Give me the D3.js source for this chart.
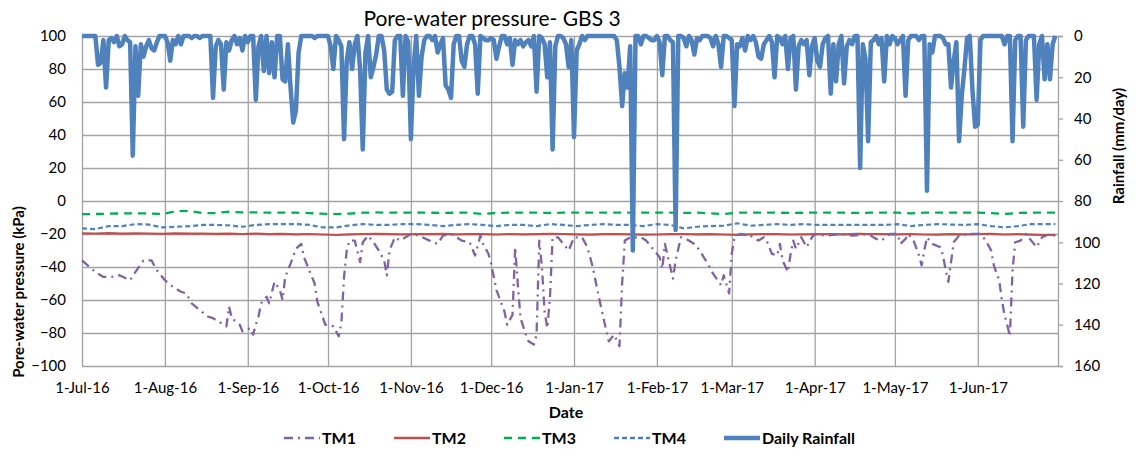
<!DOCTYPE html>
<html>
<head>
<meta charset="utf-8">
<script src="https://cdn.jsdelivr.net/npm/d3@7"></script>
<style>
    body { margin: 0; background: #fff; }
    text { font-family: Lato, "Open Sans", sans-serif; fill: #000; }
</style>
</head>
<body>
<div id="chart"></div>
<script>

// daily rainfall (mm/day), one value per day from 1-Jul-16
var rainStart = "2016-07-01";
var rainfall = [
    0, 0, 0, 0, 0, 0, 14, 13, 2, 25,
    2, 1, 3, 0, 5, 4, 0, 2, 3, 58,
    5, 29, 4, 10, 5, 2, 6, 7, 3, 0,
    0, 0, 3, 12, 2, 4, 0, 4, 0, 0,
    0, 1, 0, 0, 1, 0, 0, 0, 0, 30,
    5, 2, 4, 26, 3, 7, 2, 0, 4, 1,
    7, 0, 3, 0, 0, 31, 5, 0, 17, 0,
    18, 3, 20, 0, 0, 21, 22, 4, 25, 42,
    36, 8, 0, 0, 0, 0, 0, 1, 0, 0,
    0, 0, 0, 5, 16, 0, 2, 5, 50, 12,
    3, 16, 4, 0, 16, 55, 8, 0, 20, 15,
    9, 0, 0, 7, 26, 28, 27, 2, 0, 0,
    29, 0, 3, 50, 15, 0, 29, 10, 2, 0,
    0, 2, 0, 8, 4, 1, 24, 26, 30, 4,
    0, 0, 12, 15, 4, 0, 0, 4, 28, 0,
    1, 2, 2, 1, 2, 11, 5, 0, 0, 4,
    1, 14, 2, 4, 2, 5, 3, 2, 5, 0,
    27, 0, 1, 4, 20, 3, 55, 5, 0, 0,
    1, 4, 15, 2, 49, 7, 4, 0, 2, 0,
    0, 0, 0, 0, 0, 0, 0, 0, 0, 0,
    2, 15, 34, 18, 25, 5, 104, 0, 0, 4,
    0, 0, 1, 2, 2, 0, 3, 19, 0, 0,
    2, 3, 94, 0, 0, 1, 5, 0, 2, 9,
    1, 2, 0, 0, 0, 1, 5, 0, 4, 15,
    0, 0, 1, 2, 34, 4, 5, 1, 7, 0,
    2, 0, 3, 10, 11, 4, 2, 0, 3, 20,
    0, 1, 4, 0, 16, 1, 0, 26, 5, 2,
    4, 2, 19, 5, 1, 12, 15, 4, 1, 0,
    28, 4, 22, 4, 0, 23, 5, 2, 4, 0,
    0, 64, 4, 11, 51, 3, 2, 0, 4, 1,
    22, 0, 4, 0, 1, 4, 2, 0, 29, 2,
    0, 0, 0, 2, 0, 0, 75, 4, 8, 0,
    0, 0, 1, 4, 4, 25, 12, 3, 51, 29,
    16, 1, 0, 26, 44, 43, 2, 0, 0, 0,
    0, 0, 0, 0, 0, 4, 0, 0, 51, 2,
    0, 0, 44, 2, 0, 0, 0, 31, 4, 0,
    21, 4, 21, 4, 0];

// TM1 readings: day since 1-Jul-16 and pressure (kPa)
var tm1Days = [0, 5, 8, 11, 14, 18, 20, 23, 26, 28, 31, 34, 37, 39, 41, 44, 47, 49, 52, 54,
    55, 56, 59, 60, 63, 64, 65, 66, 67, 69, 70, 72, 74, 75, 76, 78, 80, 82, 83, 85,
    87, 88, 91, 92, 94, 96, 97, 98, 99, 100, 102, 104, 105, 107, 109, 111, 113, 114, 115, 117,
    119, 121, 123, 126, 130, 133, 135, 138, 142, 145, 147, 149, 150, 152, 153, 155, 158, 159, 161, 162,
    163, 164, 166, 167, 169, 170, 171, 172, 173, 174, 175, 176, 178, 180, 182, 184, 187, 189, 191, 193,
    195, 197, 199, 201, 202, 203, 205, 209, 211, 214, 216, 217, 218, 219, 221, 222, 224, 226, 229, 231,
    234, 236, 239, 240, 242, 243, 244, 246, 250, 253, 255, 256, 258, 260, 261, 262, 264, 265, 266, 267,
    269, 271, 273, 274, 278, 284, 288, 294, 297, 299, 302, 305, 306, 308, 309, 311, 313, 314, 315, 316,
    318, 321, 322, 323, 324, 325, 326, 328, 331, 333, 336, 338, 340, 341, 343, 344, 345, 346, 347, 348,
    349, 351, 353, 355, 357, 359, 362, 364];
var tm1Values = [-36, -43, -46, -46, -45, -48, -43, -36, -36, -42, -48, -52, -55, -56, -62, -66, -70, -71, -74, -76,
    -64, -71, -75, -79, -77, -81, -75, -70, -62, -58, -62, -49, -54, -60, -46, -38, -29, -26, -34, -42,
    -50, -61, -75, -75, -76, -82, -74, -46, -30, -24, -24, -37, -25, -21, -25, -30, -36, -45, -30, -22,
    -24, -22, -20, -21, -24, -26, -21, -20, -24, -25, -33, -21, -26, -32, -38, -54, -67, -75, -69, -28,
    -51, -71, -81, -85, -87, -81, -24, -40, -67, -77, -59, -22, -22, -26, -30, -22, -22, -28, -40, -56,
    -71, -85, -81, -88, -50, -24, -22, -22, -24, -30, -34, -41, -26, -33, -47, -36, -22, -23, -26, -30,
    -38, -44, -51, -45, -56, -32, -22, -20, -21, -24, -22, -24, -32, -33, -26, -36, -43, -32, -24, -29,
    -22, -28, -22, -20, -21, -20, -21, -20, -23, -24, -20, -20, -26, -23, -20, -24, -33, -39, -30, -22,
    -26, -28, -33, -42, -49, -37, -25, -21, -20, -20, -20, -24, -30, -39, -48, -60, -69, -75, -82, -42,
    -25, -24, -20, -24, -28, -22, -20, -21];

// TM2-TM4 readings, every five days
var pwpDays = [0, 5, 10, 15, 20, 25, 30, 35, 40, 45, 50, 55, 60, 65, 70, 75, 80, 85, 90, 95,
    100, 105, 110, 115, 120, 125, 130, 135, 140, 145, 150, 155, 160, 165, 170, 175, 180, 185, 190, 195,
    200, 205, 210, 215, 220, 225, 230, 235, 240, 245, 250, 255, 260, 265, 270, 275, 280, 285, 290, 295,
    300, 305, 310, 315, 320, 325, 330, 335, 340, 345, 350, 355, 360, 364];
var tm2Values = [-19.6, -19.7, -19.5, -19.8, -19.6, -19.7, -19.9, -19.6, -19.8, -19.7,
    -19.9, -19.8, -20.0, -19.8, -20.1, -19.9, -20.2, -20.0, -20.3, -20.6,
    -20.2, -20.0, -19.9, -20.1, -20.2, -20.0, -20.1, -19.9, -20.2, -20.0,
    -20.1, -20.3, -20.0, -20.2, -20.1, -19.9, -20.0, -20.2, -20.4, -20.1,
    -20.0, -20.2, -20.4, -20.3, -20.1, -20.0, -20.2, -20.1, -20.3, -20.5,
    -20.2, -20.0, -20.1, -20.3, -20.2, -20.0, -20.1, -20.2, -19.9, -20.0,
    -20.1, -20.2, -20.0, -20.3, -20.4, -20.1, -20.2, -20.0, -19.9, -20.3,
    -20.1, -20.4, -20.6, -20.5];
var tm3Values = [-7.9, -7.9, -7.7, -7.5, -7.5, -7.5, -7.9, -6.2, -5.9, -7.3,
    -7.3, -6.5, -6.9, -6.9, -7.1, -7.1, -7.1, -7.3, -7.7, -7.9,
    -7.7, -7.1, -6.9, -7.1, -7.1, -7.1, -7.1, -7.2, -7.1, -7.1,
    -7.9, -7.2, -7.1, -7.1, -7.1, -7.2, -7.1, -7.1, -7.1, -7.1,
    -7.1, -7.0, -7.1, -7.1, -7.1, -7.2, -7.1, -7.5, -7.9, -7.1,
    -7.1, -7.1, -7.1, -7.2, -7.1, -7.1, -7.1, -7.1, -7.2, -7.1,
    -7.1, -7.1, -7.5, -7.1, -7.1, -7.1, -7.1, -7.1, -7.3, -7.9,
    -7.2, -7.1, -7.1, -7.1];
var tm4Values = [-16.6, -17.0, -15.2, -15.2, -14.0, -14.3, -16.0, -15.6, -15.3, -14.5,
    -14.5, -14.8, -15.6, -14.5, -14.0, -14.0, -14.0, -14.5, -16.0, -16.0,
    -14.8, -14.0, -14.5, -14.5, -14.0, -14.0, -14.5, -15.2, -14.5, -14.0,
    -14.5, -15.2, -14.5, -14.5, -15.2, -14.0, -14.5, -15.2, -14.5, -14.0,
    -14.5, -14.5, -15.2, -14.0, -14.5, -16.6, -15.6, -15.2, -15.0, -13.5,
    -15.0, -14.5, -14.0, -14.5, -14.0, -14.5, -14.5, -14.5, -14.5, -14.5,
    -14.5, -14.0, -15.2, -14.5, -14.0, -14.3, -14.5, -14.0, -15.2, -16.0,
    -15.2, -14.0, -14.0, -14.0];

var monthTicks = ["2016-07-01", "2016-08-01", "2016-09-01", "2016-10-01", "2016-11-01", "2016-12-01",
    "2017-01-01", "2017-02-01", "2017-03-01", "2017-04-01", "2017-05-01", "2017-06-01"];
var pwpTicks = [-100, -80, -60, -40, -20, 0, 20, 40, 60, 80, 100];
var rainTicks = [0, 20, 40, 60, 80, 100, 120, 140, 160];

var seriesNames = ["TM1", "TM2", "TM3", "TM4", "Daily Rainfall"];

function draw() {
    var margin = { top: 36, right: 81, bottom: 88, left: 82 },
        width = 1139 - margin.left - margin.right,
        height = 454 - margin.top - margin.bottom;

    var parse = d3.timeParse("%Y-%m-%d");
    var start = parse(rainStart);
    var fmt = d3.timeFormat("%-d-%b-%y");

    var svg = d3.select("#chart")
        .append("svg")
        .attr("width", 1139)
        .attr("height", 454);

    var g = svg.append("g")
        .attr("transform", "translate(" + margin.left + "," + margin.top + ")");

    var x = d3.scaleTime()
        .domain([start, d3.timeDay.offset(start, 365)])
        .range([0, width]);
    var y = d3.scaleLinear().domain([-100, 100]).range([height, 0]);
    var yRain = d3.scaleLinear().domain([0, 160]).range([0, height]);

    var gridColor = "#a3a3a3";

    // horizontal grid + left labels
    var yAxis = g.append("g")
        .call(d3.axisLeft(y).tickValues(pwpTicks).tickSize(-width).tickPadding(16));
    yAxis.select(".domain").remove();
    yAxis.selectAll("line").attr("stroke", gridColor).attr("stroke-width", 1.3);
    yAxis.selectAll("text").style("font-size", "15px");

    // vertical grid at each month
    var tickDates = monthTicks.map(parse);
    var xAxis = g.append("g")
        .attr("transform", "translate(0," + height + ")")
        .call(d3.axisBottom(x).tickValues(tickDates).tickFormat(fmt).tickSize(height).tickPadding(16));
    xAxis.attr("transform", "translate(0,0)");
    xAxis.select(".domain").remove();
    xAxis.selectAll("line").attr("stroke", gridColor).attr("stroke-width", 1.3);
    xAxis.selectAll("text").style("font-size", "15px").attr("y", height + 16);

    // right axis (rainfall, inverted)
    var rAxis = g.append("g")
        .attr("transform", "translate(" + width + ",0)")
        .call(d3.axisRight(yRain).tickValues(rainTicks).tickSize(5).tickPadding(11));
    rAxis.select(".domain").attr("stroke", gridColor).attr("stroke-width", 1.3);
    rAxis.selectAll("line").attr("stroke", gridColor).attr("stroke-width", 1.3);
    rAxis.selectAll("text").style("font-size", "15px");

    var line = d3.line()
        .x(function (d) { return x(d.date); })
        .y(function (d) { return y(d.v); });

    function pairs(days, vals) {
        return days.map(function (d, i) {
            return { date: d3.timeDay.offset(start, d), v: vals[i] };
        });
    }

    var styles = {
        TM1: { color: "#8064a2", width: 2.3, dash: "9,5,2,5" },
        TM2: { color: "#c0504d", width: 2.2, dash: null },
        TM3: { color: "#00b050", width: 2.3, dash: "8,6" },
        TM4: { color: "#4f81bd", width: 2.2, dash: "5,3" },
        "Daily Rainfall": { color: "#4f81bd", width: 4.5, dash: null }
    };

    var pwpSeries = [
        ["TM2", pairs(pwpDays, tm2Values)],
        ["TM3", pairs(pwpDays, tm3Values)],
        ["TM4", pairs(pwpDays, tm4Values)],
        ["TM1", pairs(tm1Days, tm1Values)]
    ];

    pwpSeries.forEach(function (s) {
        var st = styles[s[0]];
        g.append("path")
            .datum(s[1])
            .attr("fill", "none")
            .attr("stroke", st.color)
            .attr("stroke-width", st.width)
            .attr("stroke-dasharray", st.dash)
            .attr("stroke-linejoin", "round")
            .attr("d", line);
    });

    // rainfall on the secondary axis
    var rainLine = d3.line()
        .x(function (d, i) { return x(d3.timeDay.offset(start, i)); })
        .y(function (d) { return yRain(d); });

    g.append("path")
        .datum(rainfall)
        .attr("fill", "none")
        .attr("stroke", styles["Daily Rainfall"].color)
        .attr("stroke-width", styles["Daily Rainfall"].width)
        .attr("stroke-linejoin", "round")
        .attr("d", rainLine);

    // titles
    svg.append("text")
        .attr("x", 492).attr("y", 26)
        .attr("text-anchor", "middle")
        .style("font-size", "21px")
        .text("Pore-water pressure- GBS 3");

    svg.append("text")
        .attr("transform", "translate(24,292) rotate(-90)")
        .attr("text-anchor", "middle")
        .style("font-size", "15px").style("font-weight", "bold")
        .text("Pore-water pressure (kPa)");

    svg.append("text")
        .attr("transform", "translate(1124,146) rotate(-90)")
        .attr("text-anchor", "middle")
        .style("font-size", "15px").style("font-weight", "bold")
        .text("Rainfall (mm/day)");

    svg.append("text")
        .attr("x", 566).attr("y", 418)
        .attr("text-anchor", "middle")
        .style("font-size", "16px").style("font-weight", "bold")
        .text("Date");

    // legend
    var legend = svg.append("g").attr("transform", "translate(284,438)");
    var lx = 0;
    seriesNames.forEach(function (name) {
        var st = styles[name];
        var item = legend.append("g").attr("transform", "translate(" + lx + ",0)");
        item.append("line")
            .attr("x1", 0).attr("x2", 36)
            .attr("y1", 0).attr("y2", 0)
            .attr("stroke", st.color)
            .attr("stroke-width", name == "Daily Rainfall" ? 4.5 : 2.3)
            .attr("stroke-dasharray", st.dash);
        var t = item.append("text")
            .attr("x", 38).attr("y", 6)
            .style("font-size", "16px").style("font-weight", "bold")
            .text(name);
        lx += 38 + t.node().getComputedTextLength() + 38;
    });
}

draw();
</script>
</body>
</html>
